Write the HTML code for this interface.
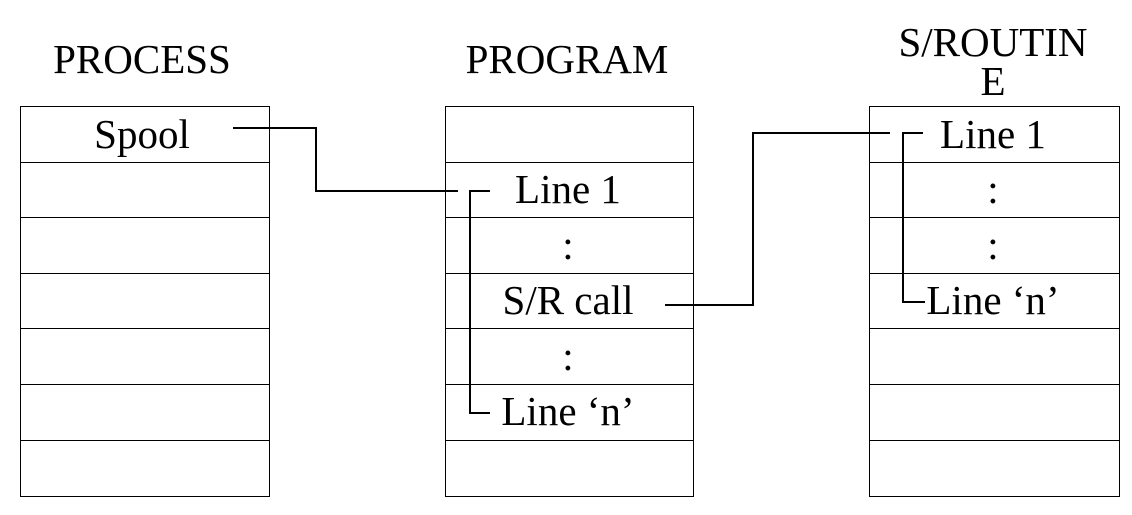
<!DOCTYPE html>
<html><head><meta charset="utf-8"><style>
html,body{margin:0;padding:0;background:#fff}
svg{display:block}
text{font-family:"Liberation Serif",serif;font-size:41px;fill:#000}
</style></head><body>
<svg width="1132" height="515" viewBox="0 0 1132 515">
<g fill="none" stroke="#000" stroke-width="1">
<rect x="20.5" y="106.5" width="249" height="390"/>
<rect x="445.5" y="106.5" width="248" height="390"/>
<rect x="869.5" y="106.5" width="250" height="390"/>
<path d="M20 162.5H270M20 217.5H270M20 273.5H270M20 328.5H270M20 384.5H270M20 440.5H270"/>
<path d="M445 162.5H694M445 217.5H694M445 273.5H694M445 328.5H694M445 384.5H694M445 440.5H694"/>
<path d="M869 162.5H1120M869 217.5H1120M869 273.5H1120M869 328.5H1120M869 384.5H1120M869 440.5H1120"/>
</g>
<g fill="none" stroke="#000" stroke-width="2">
<path d="M233 128H316V191H458"/>
<path d="M490 191H470V413H490"/>
<path d="M665 305H753V133H890"/>
<path d="M923 133H903V302H925"/>
</g>
<g text-anchor="middle">
<text x="142" y="73">PROCESS</text>
<text x="567" y="73">PROGRAM</text>
<text x="993" y="56">S/ROUTIN</text>
<text x="993" y="95">E</text>
<text x="142" y="148">Spool</text>
<text x="568" y="203">Line 1</text>
<text x="568" y="259">:</text>
<text x="568" y="314">S/R call</text>
<text x="568" y="370">:</text>
<text x="568" y="425">Line ‘n’</text>
<text x="993" y="148">Line 1</text>
<text x="993" y="203">:</text>
<text x="993" y="259">:</text>
<text x="993" y="314">Line ‘n’</text>
</g>
</svg>
</body></html>
